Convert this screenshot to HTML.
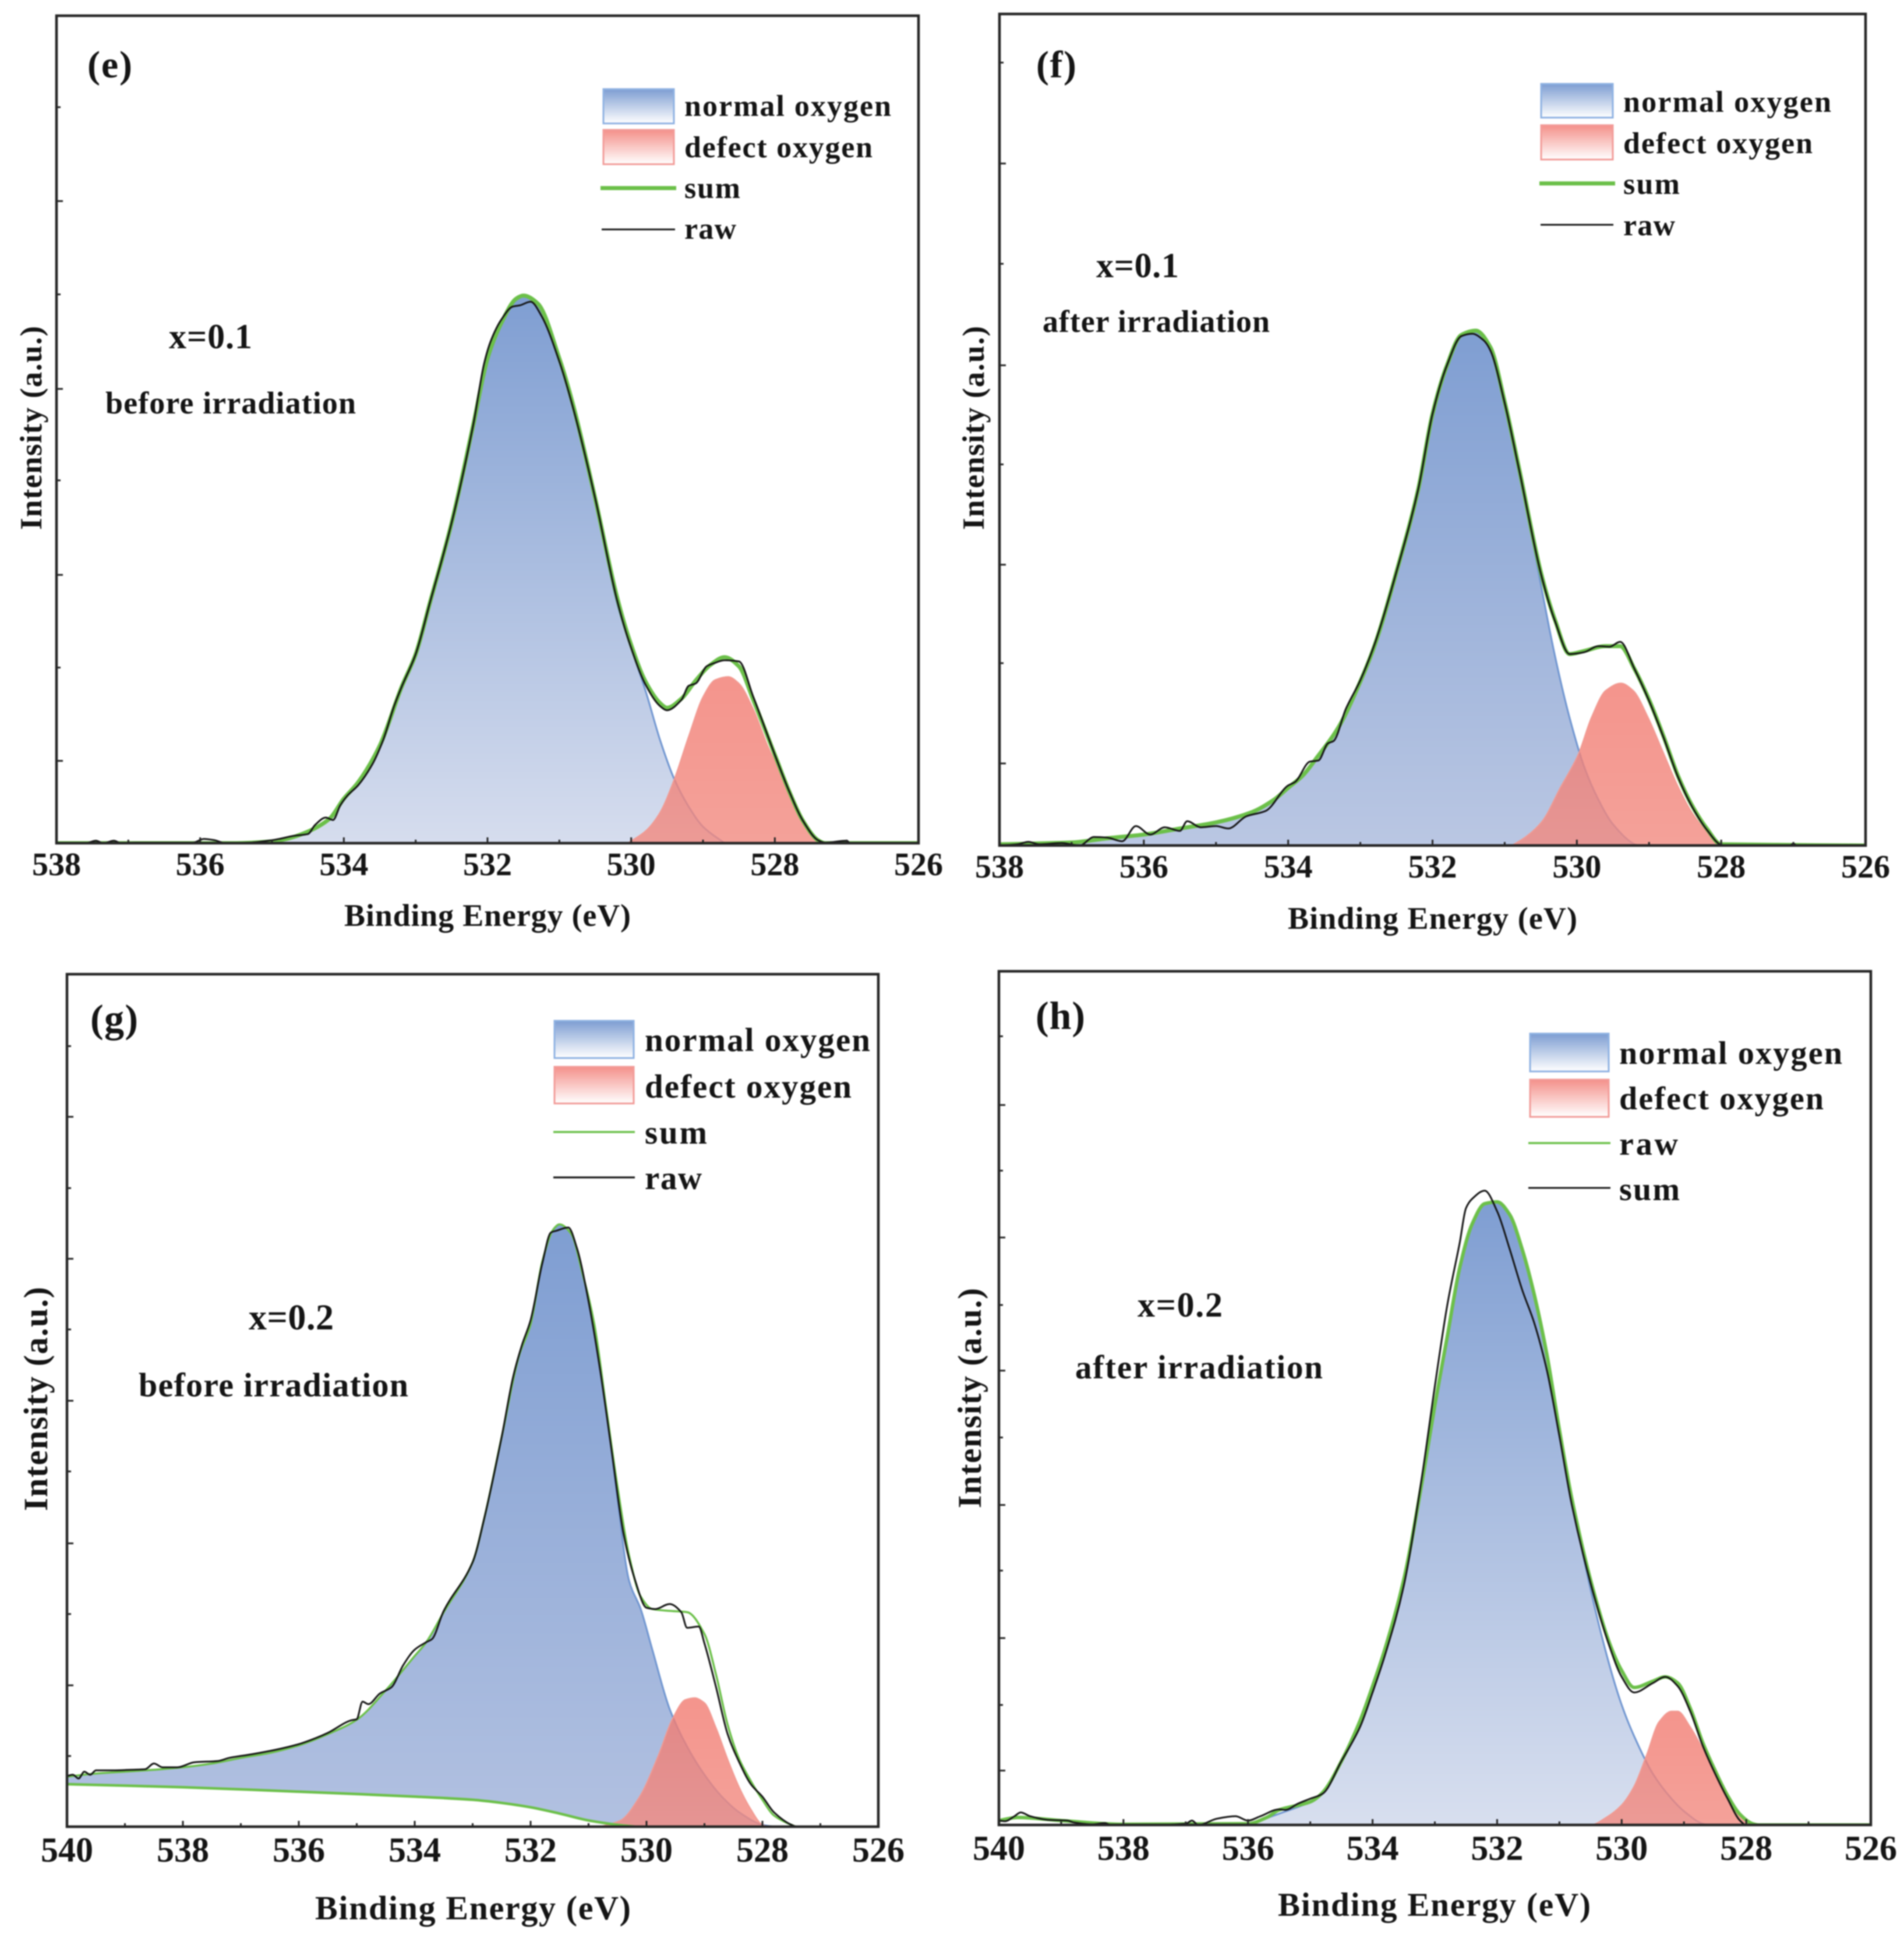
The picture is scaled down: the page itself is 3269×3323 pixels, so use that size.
<!DOCTYPE html>
<html lang="en">
<head>
<meta charset="utf-8">
<title>O 1s XPS spectra before and after irradiation</title>
<style>
html,body{margin:0;padding:0;background:#fff;}
#figure{display:block;width:3269px;height:3323px;filter:blur(1px);}
text{font-family:"Liberation Serif",serif;font-weight:bold;fill:#151515;}
.frame{fill:none;stroke:#262626;stroke-width:4.5;}
.tick{stroke:#262626;stroke-width:3;}
.sw-blue{fill:url(#legend-blue);stroke:#8fb2e2;stroke-width:3;}
.sw-red{fill:url(#legend-red);stroke:#f29c99;stroke-width:3;}
</style>
</head>
<body>
<svg id="figure" xmlns="http://www.w3.org/2000/svg" width="3269" height="3323" viewBox="0 0 3269 3323">
<defs>
<linearGradient id="legend-blue" x1="0" y1="0" x2="0" y2="1"><stop offset="0" stop-color="#7d9dd2"/><stop offset="1" stop-color="#ffffff"/></linearGradient>
<linearGradient id="legend-red" x1="0" y1="0" x2="0" y2="1"><stop offset="0" stop-color="#f4908a"/><stop offset="1" stop-color="#ffffff"/></linearGradient>
<linearGradient id="normal-e" x1="0" y1="0" x2="0" y2="1"><stop offset="0" stop-color="#7f9ed2"/><stop offset="1" stop-color="#d6ddee"/></linearGradient>
<linearGradient id="normal-f" x1="0" y1="0" x2="0" y2="1"><stop offset="0" stop-color="#7f9ed2"/><stop offset="1" stop-color="#bac7e3"/></linearGradient>
<linearGradient id="normal-g" x1="0" y1="0" x2="0" y2="1"><stop offset="0" stop-color="#7f9ed2"/><stop offset="1" stop-color="#b2c1e1"/></linearGradient>
<linearGradient id="normal-h" x1="0" y1="0" x2="0" y2="1"><stop offset="0" stop-color="#7f9ed2"/><stop offset="1" stop-color="#d8dfef"/></linearGradient>
<linearGradient id="defect-fill" x1="0" y1="0" x2="0" y2="1"><stop offset="0" stop-color="#f17a70"/><stop offset="1" stop-color="#f28a80"/></linearGradient>
<clipPath id="clip-e"><rect x="97" y="27" width="1480" height="1421"/></clipPath>
<clipPath id="clip-f"><rect x="1716" y="24" width="1487" height="1428"/></clipPath>
<clipPath id="clip-g"><rect x="115" y="1673" width="1393" height="1464"/></clipPath>
<clipPath id="clip-h"><rect x="1715" y="1668" width="1497" height="1466"/></clipPath>
</defs>

<g id="panel-e">
  <g id="marks-e"></g>
  <rect class="frame" x="97" y="27" width="1480" height="1421"/>
  <text x="150" y="133" font-size="66" textLength="77" lengthAdjust="spacing">(e)</text>
  <text x="290" y="598" font-size="60" textLength="143" lengthAdjust="spacing">x=0.1</text>
  <text x="181" y="710" font-size="54" textLength="430" lengthAdjust="spacing">before irradiation</text>
  <text x="591" y="1590" font-size="54" textLength="492" lengthAdjust="spacing">Binding Energy (eV)</text>
  <text transform="translate(71,910) rotate(-90)" font-size="53" textLength="350" lengthAdjust="spacing">Intensity (a.u.)</text>
  <g>
    <rect class="sw-blue" x="1036" y="153" width="121" height="59"/>
    <rect class="sw-red" x="1036" y="223" width="121" height="59"/>
    <line x1="1031" y1="323" x2="1161" y2="323" stroke="#6cc04a" stroke-width="7"/>
    <line x1="1033" y1="394" x2="1159" y2="394" stroke="#1a1a1a" stroke-width="3"/>
    <text x="1175" y="199" font-size="52" textLength="355" lengthAdjust="spacing">normal oxygen</text>
    <text x="1175" y="270" font-size="52" textLength="323" lengthAdjust="spacing">defect oxygen</text>
    <text x="1175" y="340" font-size="52" textLength="96" lengthAdjust="spacing">sum</text>
    <text x="1175" y="410" font-size="52" textLength="89" lengthAdjust="spacing">raw</text>
  </g>
</g>

<g id="panel-f">
  <g id="marks-f"></g>
  <rect class="frame" x="1716" y="24" width="1487" height="1428"/>
  <text x="1779" y="133" font-size="66" textLength="69" lengthAdjust="spacing">(f)</text>
  <text x="1882" y="476" font-size="60" textLength="142" lengthAdjust="spacing">x=0.1</text>
  <text x="1790" y="570" font-size="54" textLength="390" lengthAdjust="spacing">after irradiation</text>
  <text x="2211" y="1595" font-size="54" textLength="497" lengthAdjust="spacing">Binding Energy (eV)</text>
  <text transform="translate(1689,910) rotate(-90)" font-size="53" textLength="350" lengthAdjust="spacing">Intensity (a.u.)</text>
  <g>
    <rect class="sw-blue" x="2646" y="144" width="123" height="58"/>
    <rect class="sw-red" x="2646" y="215" width="123" height="59"/>
    <line x1="2643" y1="315" x2="2773" y2="315" stroke="#6cc04a" stroke-width="7"/>
    <line x1="2645" y1="386" x2="2770" y2="386" stroke="#1a1a1a" stroke-width="3"/>
    <text x="2787" y="192" font-size="52" textLength="357" lengthAdjust="spacing">normal oxygen</text>
    <text x="2787" y="263" font-size="52" textLength="325" lengthAdjust="spacing">defect oxygen</text>
    <text x="2787" y="333" font-size="52" textLength="97" lengthAdjust="spacing">sum</text>
    <text x="2787" y="404" font-size="52" textLength="89" lengthAdjust="spacing">raw</text>
  </g>
</g>

<g id="panel-g">
  <g id="marks-g"></g>
  <rect class="frame" x="115" y="1673" width="1393" height="1464"/>
  <text x="155" y="1772" font-size="68" textLength="82" lengthAdjust="spacing">(g)</text>
  <text x="427" y="2283" font-size="62" textLength="146" lengthAdjust="spacing">x=0.2</text>
  <text x="238" y="2398" font-size="58" textLength="463" lengthAdjust="spacing">before irradiation</text>
  <text x="541" y="3296" font-size="58" textLength="542" lengthAdjust="spacing">Binding Energy (eV)</text>
  <text transform="translate(81,2595) rotate(-90)" font-size="58" textLength="385" lengthAdjust="spacing">Intensity (a.u.)</text>
  <g>
    <rect class="sw-blue" x="952" y="1753" width="136" height="64"/>
    <rect class="sw-red" x="952" y="1832" width="136" height="63"/>
    <line x1="950" y1="1944" x2="1090" y2="1944" stroke="#6cc04a" stroke-width="3.5"/>
    <line x1="950" y1="2022" x2="1090" y2="2022" stroke="#1a1a1a" stroke-width="3.2"/>
    <text x="1107" y="1805" font-size="57" textLength="387" lengthAdjust="spacing">normal oxygen</text>
    <text x="1107" y="1885" font-size="57" textLength="355" lengthAdjust="spacing">defect oxygen</text>
    <text x="1107" y="1964" font-size="57" textLength="107" lengthAdjust="spacing">sum</text>
    <text x="1107" y="2042" font-size="57" textLength="98" lengthAdjust="spacing">raw</text>
  </g>
</g>

<g id="panel-h">
  <g id="marks-h"></g>
  <rect class="frame" x="1715" y="1668" width="1497" height="1466"/>
  <text x="1778" y="1767" font-size="68" textLength="85" lengthAdjust="spacing">(h)</text>
  <text x="1953" y="2261" font-size="60" textLength="146" lengthAdjust="spacing">x=0.2</text>
  <text x="1846" y="2367" font-size="57" textLength="425" lengthAdjust="spacing">after irradiation</text>
  <text x="2194" y="3290" font-size="57" textLength="537" lengthAdjust="spacing">Binding Energy (eV)</text>
  <text transform="translate(1684,2590) rotate(-90)" font-size="57" textLength="378" lengthAdjust="spacing">Intensity (a.u.)</text>
  <g>
    <rect class="sw-blue" x="2627" y="1775" width="135" height="65"/>
    <rect class="sw-red" x="2627" y="1854" width="135" height="64"/>
    <line x1="2624" y1="1963" x2="2765" y2="1963" stroke="#6cc04a" stroke-width="3.5"/>
    <line x1="2624" y1="2040" x2="2765" y2="2040" stroke="#1a1a1a" stroke-width="3"/>
    <text x="2780" y="1827" font-size="56" textLength="383" lengthAdjust="spacing">normal oxygen</text>
    <text x="2780" y="1905" font-size="56" textLength="351" lengthAdjust="spacing">defect oxygen</text>
    <text x="2780" y="1983" font-size="56" textLength="101" lengthAdjust="spacing">raw</text>
    <text x="2780" y="2061" font-size="56" textLength="104" lengthAdjust="spacing">sum</text>
  </g>
</g>
</svg>

<script>
/* ---------- shared tick values ---------- */
const labelTicksNarrow = [538,536,534,532,530,528,526];
const minorTicksNarrow = [537,535,533,531,529,527];
const labelTicksWide = [540,538,536,534,532,530,528,526];
const minorTicksWide = [539,537,535,533,531,529,527];

/* ---------- panel e ---------- */
const eSumEnergy = [538,536,535.5,535,534.8,534.5,534.2,534,533.8,533.5,533.2,533,532.8,532.5,532.2,532,531.8,531.6,531.5,531.3,531,530.8,530.5,530.2,530,529.8,529.6,529.5,529.3,529.1,528.9,528.7,528.5,528.3,528,527.8,527.6,527.4,527.3,526];
const eSum = [0,0,0,3,7,19,40,73,100,160,255,310,395,525,685,795,855,893,898,885,795,715,565,405,325,265,230,222,237,267,292,305,290,235,145,85,35,5,0,0];
const eRawEnergy = [538,537.6,537.45,537.35,537.2,537.1,536.9,536.1,535.95,535.8,535.65,535.3,535,534.9,534.7,534.5,534.4,534.25,534.15,534.05,533.95,533.8,533.6,533.45,533.3,533.2,533,532.8,532.5,532.2,532.05,531.95,531.8,531.65,531.55,531.4,531.25,531,530.8,530.5,530.2,530,529.8,529.6,529.5,529.3,529.2,529.1,528.95,528.85,528.7,528.5,528.3,528,527.8,527.6,527.4,527.3,527,526.95,526];
const eRaw = [0,0,4,0,4,0,1,1,7,5,0,1,5,7,12,15,30,42,38,62,78,95,130,170,225,255,310,395,525,685,785,825,860,880,882,888,865,790,710,565,400,320,260,225,218,235,258,262,290,295,300,298,240,145,85,35,5,1,4,0,0];
const eNormalEnergy = [535.5,535,534.8,534.5,534.2,534,533.8,533.5,533.2,533,532.8,532.5,532.2,532,531.8,531.6,531.5,531.3,531,530.8,530.5,530.2,530,529.8,529.6,529.4,529.2,529,528.7];
const eNormal = [0,3,7,19,40,73,100,160,255,310,395,525,685,795,855,893,898,885,795,715,560,395,320,250,170,105,60,27,0];
const eDefectEnergy = [530.05,529.8,529.6,529.4,529.2,529,528.83,528.65,528.5,528.3,528.1,527.9,527.7,527.5,527.37,527.3];
const eDefect = [0,20,50,105,175,240,268,273,262,220,160,110,60,20,2,0];
const eYTicksMajor = [135,440,745,1053];
const eYTicksMinor = [288,595,900,1207];

/* ---------- panel f ---------- */
const fSumEnergy = [538,537,536.5,536,535.5,535,534.5,534.2,534,533.8,533.6,533.3,533,532.8,532.5,532.2,532,531.8,531.6,531.4,531.2,531,530.8,530.5,530.3,530.1,529.9,529.6,529.4,529.2,529,528.8,528.6,528.4,528.2,528,526];
const fSum = [2,5,12,18,28,38,55,75,95,115,145,195,270,330,450,585,710,790,840,847,820,730,620,450,370,315,320,328,328,290,240,180,115,65,28,2,0];
const fRawEnergy = [538,537.75,537.6,537.45,537.14,536.89,536.69,536.51,536.3,536.11,535.91,535.71,535.5,535.4,535.21,535,534.83,534.58,534.31,534.01,533.9,533.7,533.58,533.45,533.37,533.2,533,532.8,532.5,532.2,532,531.8,531.6,531.45,531.3,531.2,531,530.8,530.5,530.3,530.1,529.9,529.7,529.55,529.4,529.2,529,528.8,528.6,528.4,528.2,528,527.95,527.05,527,526.95,526];
const fRaw = [0,2,6,2,4,0,14,13,7,32,18,30,24,40,30,32,28,48,57,98,105,138,140,168,172,225,272,332,450,585,710,790,838,842,832,815,728,618,448,368,315,318,328,327,335,290,238,178,113,63,26,1,0,0,3,0,0];
const fNormalEnergy = [538,537,536.5,536,535.5,535,534.5,534.2,534,533.8,533.6,533.3,533,532.8,532.5,532.2,532,531.8,531.6,531.4,531.2,531,530.8,530.5,530.3,530.1,529.9,529.7,529.5,529.2,529.15];
const fNormal = [2,5,12,18,28,38,55,75,95,115,145,195,270,330,450,585,710,790,840,847,820,730,620,430,310,210,130,75,35,2,0];
const fDefectEnergy = [530.9,530.7,530.48,530.23,529.98,529.8,529.6,529.39,529.22,529.01,528.81,528.61,528.41,528.21,528.03];
const fDefect = [0,15,40,95,150,210,255,267,255,210,155,100,55,23,0];
const fYTicksMajor = [135,462,790,1122];
const fYTicksMinor = [300,627,957,1288];

/* ---------- panel g ---------- */
const gSumEnergy = [540,539.5,539,538.5,538,537.5,537,536.5,536,535.5,535,534.5,534,533.8,533.5,533,532.8,532.5,532.2,532,531.8,531.6,531.5,531.3,531.1,530.9,530.7,530.5,530.3,530.1,529.9,529.6,529.3,529,528.8,528.6,528.4,528.2,528,527.8,527.5,527.4,526];
const gSum = [80,85,88,91,95,101,110,118,130,148,171,218,273,295,343,423,493,623,753,803,903,956,963,948,883,803,673,543,433,368,348,345,343,308,243,163,108,73,43,18,3,0,0];
const gRawEnergy = [540,539.9,539.8,539.7,539.6,539.5,539.2,538.9,538.65,538.5,538.35,538.1,537.8,537.4,537.2,536.8,536.4,536,535.7,535.5,535.1,535,534.9,534.8,534.6,534.4,534.2,534,533.8,533.7,533.5,533,532.8,532.5,532.3,532.15,532,531.8,531.65,531.55,531.35,531.2,531,530.8,530.6,530.4,530.2,530,529.85,529.6,529.4,529.3,529.1,529,528.8,528.6,528.4,528.2,528,527.8,527.5,527.4,526];
const gRaw = [81,83,77,88,83,90,90,91,92,101,95,95,103,105,110,116,123,132,142,150,170,172,200,196,213,223,258,283,295,300,345,423,493,623,720,770,810,900,950,953,958,925,840,730,600,470,395,350,348,356,343,318,320,293,223,148,103,68,48,23,3,0,0];
const gNormalEnergy = [540,539.5,539,538.5,538,537.5,537,536.5,536,535.5,535,534.5,534,533.8,533.5,533,532.8,532.5,532.2,532,531.8,531.6,531.5,531.3,531.1,530.9,530.7,530.5,530.3,530.1,529.9,529.6,529.3,529,528.7,528.4,528,527.8];
const gNormal = [80,85,88,91,95,101,110,118,130,148,171,218,273,295,343,423,493,623,753,803,903,956,963,948,883,803,673,523,393,348,283,188,128,83,48,23,3,0];
const gBaseEnergy = [540,538,536,534,533,532.5,532,531.5,531,530.5,530.2];
const gBase = [68,63,56,48,43,38,31,21,10,3,0];
const gDefectEnergy = [530.8,530.45,530.12,529.8,529.55,529.33,529.17,529,528.8,528.6,528.4,528.2,528,527.9];
const gDefect = [0,10,48,113,173,203,206,198,158,108,63,28,3,0];
const gYTicksMajor = [226,453,681,908,1135];
const gYTicksMinor = [113,340,568,795,1021,1248];

/* ---------- panel h ---------- */
const hSumEnergy = [540,539.7,539,538,536,535.7,535.5,535,534.8,534.5,534.2,534,533.8,533.5,533.2,533,532.8,532.6,532.4,532.2,532,531.8,531.6,531.4,531.2,531,530.8,530.5,530.2,530,529.8,529.5,529.3,529.1,528.9,528.7,528.5,528.3,528.1,527.9,527.8,526];
const hSum = [7,12,7,1,2,12,24,37,52,102,167,222,282,392,552,672,782,892,962,994,997,977,922,847,752,632,522,392,292,247,220,230,237,227,187,132,87,47,17,2,0,0];
const hRawEnergy = [540,539.9,539.75,539.65,539.5,539.2,538.9,538.8,538.5,538.3,538.2,537.5,537,536.9,536.8,536.5,536.2,536,535.8,535.5,535.4,535.2,535,534.8,534.5,534.2,534,533.8,533.5,533.2,533,532.8,532.6,532.5,532.4,532.2,532,531.8,531.6,531.4,531.2,531,530.8,530.5,530.2,530,529.8,529.5,529.3,529.1,528.9,528.7,528.5,528.3,528.1,528,527,526];
const hRaw = [7,6,14,20,14,8,7,4,1,3,0,0,2,7,0,10,14,7,14,25,24,34,42,50,102,157,212,272,382,562,702,832,932,987,1002,1015,982,922,857,802,727,622,512,387,287,237,212,227,237,222,182,127,82,42,7,0,0,0];
const hNormalEnergy = [536,535.5,535,534.8,534.5,534.2,534,533.8,533.5,533.2,533,532.8,532.6,532.4,532.2,532,531.8,531.6,531.4,531.2,531,530.8,530.5,530.2,530,529.8,529.5,529.2,529,528.7,528.6];
const hNormal = [0,18,37,52,102,167,222,282,392,552,672,782,892,962,994,997,977,922,847,752,632,522,377,257,192,142,82,42,22,2,0];
const hDefectEnergy = [536,530.5,530.25,530,529.8,529.6,529.4,529.2,529.1,528.9,528.7,528.5,528.3,528.1,527.95];
const hDefect = [0,0,12,32,62,112,165,182,182,157,122,82,47,17,0];
const hYTicksMajor = [87,299,512,727,940,1152];
const hYTicksMinor = [192,407,620,832,1047,1262];

/* ---------- panel layout and axis domains ---------- */
const panelConfigs = [
  {id:'e',left:97,right:1577,top:27,bottom:1448,xFrom:538,xTo:526,yMax:1357,labels:labelTicksNarrow,minors:minorTicksNarrow,labelY:1503,labelSize:56,sumWidth:7,
   sumX:eSumEnergy,sumY:eSum,rawX:eRawEnergy,rawY:eRaw,normalX:eNormalEnergy,normalY:eNormal,defectX:eDefectEnergy,defectY:eDefect,major:eYTicksMajor,minor:eYTicksMinor},
  {id:'f',left:1716,right:3203,top:24,bottom:1452,xFrom:538,xTo:526,yMax:1368,labels:labelTicksNarrow,minors:minorTicksNarrow,labelY:1507,labelSize:56,sumWidth:7,
   sumX:fSumEnergy,sumY:fSum,rawX:fRawEnergy,rawY:fRaw,normalX:fNormalEnergy,normalY:fNormal,defectX:fDefectEnergy,defectY:fDefect,major:fYTicksMajor,minor:fYTicksMinor},
  {id:'g',left:115,right:1508,top:1673,bottom:3137,xFrom:540,xTo:526,yMax:1363,labels:labelTicksWide,minors:minorTicksWide,labelY:3197,labelSize:60,sumWidth:3.5,
   sumX:gSumEnergy,sumY:gSum,rawX:gRawEnergy,rawY:gRaw,normalX:gNormalEnergy,normalY:gNormal,baseX:gBaseEnergy,baseY:gBase,defectX:gDefectEnergy,defectY:gDefect,major:gYTicksMajor,minor:gYTicksMinor},
  {id:'h',left:1715,right:3212,top:1668,bottom:3134,xFrom:540,xTo:526,yMax:1366,labels:labelTicksWide,minors:minorTicksWide,labelY:3194,labelSize:60,sumWidth:6,
   sumX:hSumEnergy,sumY:hSum,rawX:hRawEnergy,rawY:hRaw,normalX:hNormalEnergy,normalY:hNormal,defectX:hDefectEnergy,defectY:hDefect,major:hYTicksMajor,minor:hYTicksMinor}
];

const SVG_NS = 'http://www.w3.org/2000/svg';

function shape(tag, attrs) {
  const el = document.createElementNS(SVG_NS, tag);
  for (const key in attrs) el.setAttribute(key, attrs[key]);
  return el;
}

/* monotone cubic through the projected points: no overshoot on uneven spacing */
function smoothSegments(pts) {
  const n = pts.length;
  const slopes = [];
  for (let i = 0; i < n - 1; i++) {
    slopes.push((pts[i + 1][1] - pts[i][1]) / (pts[i + 1][0] - pts[i][0]));
  }
  const tangents = [slopes[0]];
  for (let i = 1; i < n - 1; i++) {
    const a = slopes[i - 1];
    const b = slopes[i];
    tangents.push(a * b <= 0 ? 0 : 2 * a * b / (a + b));
  }
  tangents.push(slopes[n - 2]);
  let d = '';
  for (let i = 0; i < n - 1; i++) {
    const dx = (pts[i + 1][0] - pts[i][0]) / 3;
    const c1x = pts[i][0] + dx;
    const c1y = pts[i][1] + tangents[i] * dx;
    const c2x = pts[i + 1][0] - dx;
    const c2y = pts[i + 1][1] - tangents[i + 1] * dx;
    d += ' C' + c1x.toFixed(1) + ' ' + c1y.toFixed(1) + ' ' + c2x.toFixed(1) + ' ' + c2y.toFixed(1) + ' ' + pts[i + 1][0].toFixed(1) + ' ' + pts[i + 1][1].toFixed(1);
  }
  return d;
}

function smoothPath(pts) {
  return 'M' + pts[0][0].toFixed(1) + ' ' + pts[0][1].toFixed(1) + smoothSegments(pts);
}

function drawPanel(cfg) {
  const host = document.getElementById('marks-' + cfg.id);
  const xScale = v => cfg.left + (cfg.xFrom - v) / (cfg.xFrom - cfg.xTo) * (cfg.right - cfg.left);
  const yScale = v => cfg.bottom - v / cfg.yMax * (cfg.bottom - cfg.top);
  const toPoints = (xs, ys) => xs.map((x, i) => [xScale(x), yScale(ys[i])]);

  const marks = shape('g', {'clip-path': 'url(#clip-' + cfg.id + ')'});
  
  
  host.appendChild(marks);

  /* normal oxygen area */
  const normalPts = toPoints(cfg.normalX, cfg.normalY);
  let normalD = smoothPath(normalPts);
  if (cfg.baseX) {
    const basePts = toPoints(cfg.baseX, cfg.baseY).reverse();
    normalD += ' L' + basePts[0][0].toFixed(1) + ' ' + basePts[0][1].toFixed(1) + smoothSegments(basePts) + ' Z';
  } else {
    normalD += ' L' + normalPts[normalPts.length - 1][0].toFixed(1) + ' ' + yScale(0).toFixed(1) + ' L' + normalPts[0][0].toFixed(1) + ' ' + yScale(0).toFixed(1) + ' Z';
  }
  const normalArea = shape('path', {d: normalD, fill: 'url(#normal-' + cfg.id + ')', stroke: 'none'});
  
  
  marks.appendChild(normalArea);

  const normalLine = shape('path', {d: smoothPath(normalPts), fill: 'none', stroke: '#6f95d0', 'stroke-width': 3});
  
  
  marks.appendChild(normalLine);

  /* defect oxygen area */
  const defectPts = toPoints(cfg.defectX, cfg.defectY);
  const defectD = smoothPath(defectPts) + ' Z';
  const defectArea = shape('path', {d: defectD, fill: 'url(#defect-fill)', 'fill-opacity': 0.8, stroke: '#f19a92', 'stroke-width': 2});
  
  
  marks.appendChild(defectArea);

  /* green sum line and optional fitted background */
  if (cfg.baseX) {
    const baseLine = shape('path', {d: smoothPath(toPoints(cfg.baseX, cfg.baseY)), fill: 'none', stroke: '#6cc04a', 'stroke-width': 4.5});
    
    
    marks.appendChild(baseLine);
  }
  const sumLine = shape('path', {d: smoothPath(toPoints(cfg.sumX, cfg.sumY)), fill: 'none', stroke: '#6cc04a', 'stroke-width': cfg.sumWidth, 'stroke-linejoin': 'round'});
  
  
  marks.appendChild(sumLine);

  /* black measured line */
  const rawLine = shape('path', {d: smoothPath(toPoints(cfg.rawX, cfg.rawY)), fill: 'none', stroke: '#141414', 'stroke-width': 3, 'stroke-linejoin': 'round'});
  
  
  marks.appendChild(rawLine);

  /* x ticks and labels */
  cfg.labels.forEach(v => {
    const px = xScale(v);
    const tick = shape('line', {x1: px, x2: px, y1: cfg.bottom, y2: cfg.bottom - 10, class: 'tick'});
    
    
    host.appendChild(tick);
    const label = shape('text', {x: px, y: cfg.labelY, 'font-size': cfg.labelSize, 'text-anchor': 'middle'});
    label.textContent = String(v);
    
    
    host.appendChild(label);
  });
  cfg.minors.forEach(v => {
    const px = xScale(v);
    const tick = shape('line', {x1: px, x2: px, y1: cfg.bottom, y2: cfg.bottom - 6, class: 'tick'});
    
    
    host.appendChild(tick);
  });

  /* y ticks */
  cfg.major.forEach(v => {
    const py = yScale(v);
    const tick = shape('line', {x1: cfg.left, x2: cfg.left + 11, y1: py, y2: py, class: 'tick'});
    
    
    host.appendChild(tick);
  });
  cfg.minor.forEach(v => {
    const py = yScale(v);
    const tick = shape('line', {x1: cfg.left, x2: cfg.left + 7, y1: py, y2: py, class: 'tick'});
    
    
    host.appendChild(tick);
  });
}

panelConfigs.forEach(drawPanel);
</script>
</body>
</html>
